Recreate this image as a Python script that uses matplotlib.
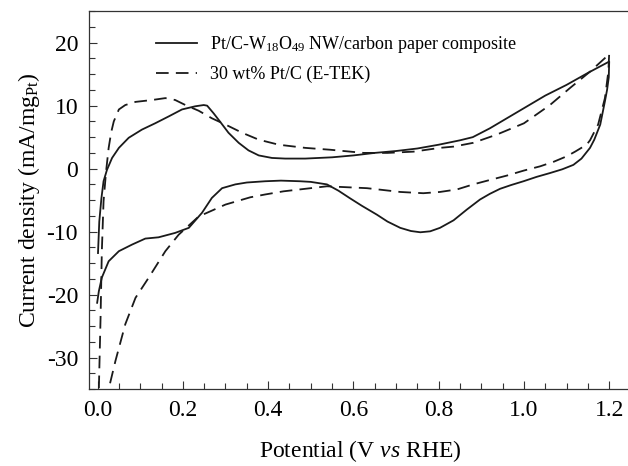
import numpy as np
import matplotlib
matplotlib.use("Agg")
import matplotlib.pyplot as plt
from matplotlib.ticker import MultipleLocator

plt.rcParams['font.family'] = ['Liberation Serif', 'DejaVu Serif']
plt.rcParams['mathtext.fontset'] = 'custom'
plt.rcParams['mathtext.rm'] = 'Liberation Serif'
plt.rcParams['mathtext.it'] = 'Liberation Serif:italic'
plt.rcParams['axes.unicode_minus'] = False

# Pt/C-W18O49 NW/carbon paper composite (solid), anodic then cathodic sweep
w_anodic_x = [0.001, 0.004, 0.009, 0.014, 0.022, 0.034, 0.05, 0.073, 0.104, 0.135, 0.167, 0.198,
              0.229, 0.249, 0.257, 0.272, 0.288, 0.307, 0.331, 0.354, 0.378, 0.409, 0.44, 0.487,
              0.55, 0.6, 0.65, 0.7, 0.75, 0.8, 0.85, 0.88, 0.92, 0.96, 1.0, 1.05, 1.1, 1.15, 1.2]
w_anodic_y = [-13.4, -8.4, -4.7, -2.0, -0.2, 1.7, 3.3, 4.9, 6.2, 7.2, 8.3, 9.4,
              9.9, 10.1, 10.0, 8.8, 7.4, 5.7, 4.1, 2.9, 2.1, 1.7, 1.6, 1.6,
              1.8, 2.1, 2.5, 2.8, 3.2, 3.8, 4.5, 5.0, 6.4, 8.0, 9.6, 11.6, 13.3, 15.2, 17.0]
w_cathodic_x = [1.2, 1.199, 1.195, 1.19, 1.179, 1.165, 1.155, 1.135, 1.116, 1.09, 1.061, 1.03,
                0.999, 0.97, 0.944, 0.92, 0.897, 0.866, 0.835, 0.803, 0.78, 0.757, 0.735, 0.71,
                0.68, 0.655, 0.62, 0.592, 0.565, 0.538, 0.5, 0.475, 0.43, 0.393, 0.35, 0.323,
                0.292, 0.268, 0.245, 0.214, 0.182, 0.143, 0.112, 0.081, 0.05, 0.026, 0.010,
                0.003, -0.001]
w_cathodic_y = [17.0, 14.5, 12.5, 10.7, 7.0, 4.6, 3.3, 1.6, 0.6, -0.1, -0.7, -1.3,
                -2.0, -2.6, -3.2, -4.0, -4.9, -6.5, -8.2, -9.4, -9.95, -10.1, -9.9, -9.4,
                -8.4, -7.3, -5.9, -4.7, -3.5, -2.5, -2.1, -2.0, -1.9, -2.0, -2.2, -2.5,
                -3.1, -4.65, -7.0, -9.4, -10.2, -10.9, -11.1, -12.05, -13.1, -14.7, -17.3,
                -19.45, -21.3]

# 30 wt% Pt/C (E-TEK) (dashed)
e_anodic_x = [0.001, 0.003, 0.007, 0.010, 0.014, 0.02, 0.026, 0.032, 0.038, 0.05, 0.065, 0.089,
              0.128, 0.159, 0.182, 0.206, 0.237, 0.268, 0.3, 0.339, 0.378, 0.425, 0.487, 0.546,
              0.624, 0.68, 0.741, 0.803, 0.835, 0.881, 0.936, 1.0, 1.061, 1.108, 1.155, 1.194, 1.2]
e_anodic_y = [-38.0, -35.0, -23.7, -13.1, -5.2, -0.4, 3.3, 5.8, 7.5, 9.4, 10.1, 10.6,
              10.9, 11.2, 10.9, 10.1, 9.2, 8.0, 7.0, 5.7, 4.6, 3.8, 3.3, 3.0,
              2.5, 2.5, 2.7, 3.3, 3.5, 4.1, 5.4, 7.2, 10.1, 12.8, 15.4, 17.8, 18.3]
e_cathodic_x = [1.2, 1.198, 1.19, 1.174, 1.155, 1.147, 1.12, 1.10, 1.07, 1.038, 1.0, 0.96,
                0.92, 0.881, 0.843, 0.803, 0.764, 0.71, 0.632, 0.538, 0.436, 0.393, 0.358, 0.3,
                0.237, 0.19, 0.159, 0.12, 0.089, 0.065, 0.042, 0.026, 0.02]
e_cathodic_y = [18.3, 15.4, 11.2, 7.0, 4.5, 3.8, 2.7, 1.95, 1.1, 0.37, -0.3, -1.1,
                -1.8, -2.5, -3.3, -3.7, -3.9, -3.7, -3.1, -2.8, -3.6, -4.1, -4.55, -5.7,
                -7.6, -10.5, -13.1, -17.3, -20.5, -24.7, -30.5, -35.0, -38.0]

labels = ['Pt/C-W$_{18}$O$_{49}$ NW/carbon paper composite', '30 wt% Pt/C (E-TEK)']

fig = plt.figure(figsize=(6.28, 4.66), dpi=100)
ax = fig.add_axes([0.142, 0.165, 0.862, 0.811])

ax.plot(w_anodic_x + w_cathodic_x, w_anodic_y + w_cathodic_y, color='#1a1a1a', lw=1.3,
        label=labels[0])
ax.plot(e_anodic_x + e_cathodic_x, e_anodic_y + e_cathodic_y, color='#1a1a1a', lw=1.3,
        dashes=(7, 4), label=labels[1])

ax.set_xlim(-0.0197, 1.25)
ax.set_ylim(-35, 25)
ax.xaxis.set_major_locator(MultipleLocator(0.2))
ax.xaxis.set_minor_locator(MultipleLocator(0.05))
ax.yaxis.set_major_locator(MultipleLocator(10))
ax.yaxis.set_minor_locator(MultipleLocator(2.5))
ax.xaxis.set_major_formatter(matplotlib.ticker.FormatStrFormatter('%.1f'))
ax.tick_params(which='both', direction='in', labelsize=17, pad=8, color='#333333')
ax.tick_params(which='major', length=6, width=0.8)
ax.tick_params(which='minor', length=4, width=0.8)
for s in ax.spines.values():
    s.set_linewidth(0.9)
    s.set_color('#333333')

ax.set_xlabel('Potential (V $\\mathit{vs}$ RHE)', fontsize=17, labelpad=12)
ax.set_ylabel('Current density (mA/mg$_{\\mathrm{Pt}}$)', fontsize=17, labelpad=3)

ax.legend(loc='upper left', bbox_to_anchor=(0.123, 0.94), frameon=False, fontsize=13,
          handlelength=2.3, handletextpad=0.7, labelspacing=0.6, borderpad=0, borderaxespad=0)

fig.savefig('out.png', dpi=100)
